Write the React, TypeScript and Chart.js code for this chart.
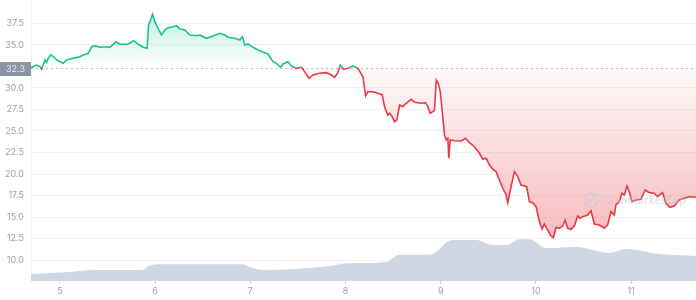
import React, { useEffect, useRef } from "react";
import { Chart, registerables } from "chart.js";

Chart.register(...registerables);

// ---- data ----
const times = [
  4.696, 4.755, 4.79, 4.808, 4.843, 4.86, 4.877, 4.902, 4.93, 4.965, 5.035, 5.07, 5.14, 5.21, 5.245, 5.297, 5.333, 5.367, 5.42, 5.49, 5.525, 5.588, 5.63, 5.7, 5.735, 5.776, 5.822, 5.874, 5.916, 5.931, 5.952, 5.973, 5.997, 6.031, 6.067, 6.102, 6.136, 6.189, 6.225, 6.259, 6.312, 6.364, 6.434, 6.469,
  6.539, 6.609, 6.679, 6.731, 6.766, 6.836, 6.889, 6.917, 6.941, 6.976, 7.028, 7.081, 7.133, 7.186, 7.238, 7.274, 7.316, 7.343, 7.396, 7.431, 7.484, 7.536, 7.571, 7.616, 7.658, 7.728, 7.799, 7.851, 7.886, 7.92, 7.945, 7.98, 8.025, 8.078, 8.13,
  8.183, 8.211, 8.235, 8.288, 8.34, 8.386, 8.41, 8.445, 8.463, 8.491, 8.515, 8.539, 8.568, 8.602, 8.638, 8.69, 8.725, 8.795, 8.84, 8.865, 8.89, 8.917, 8.935, 8.953, 8.974, 8.995, 9.022, 9.04, 9.058, 9.075, 9.085, 9.1, 9.145, 9.215, 9.26, 9.302, 9.355, 9.407, 9.442, 9.478, 9.512, 9.554, 9.582, 9.617, 9.652, 9.687, 9.704,
  9.739, 9.774, 9.809, 9.844, 9.879, 9.903, 9.932, 9.966, 10.002, 10.037, 10.065, 10.089, 10.124, 10.159, 10.184, 10.212, 10.247, 10.281, 10.307, 10.334, 10.37, 10.404, 10.439, 10.464, 10.491, 10.544, 10.579, 10.614, 10.666, 10.719, 10.753, 10.789, 10.824, 10.841, 10.876, 10.904, 10.929, 10.957, 10.981, 11.009, 11.051, 11.103, 11.149, 11.191, 11.243, 11.278, 11.331, 11.366, 11.408, 11.453, 11.506, 11.558, 11.611, 11.682,
];

const prices = [
  32.36, 32.67, 32.48, 32.21, 33.26, 32.99, 33.45, 33.84, 33.64, 33.26, 32.87, 33.26, 33.45, 33.64, 33.84, 34.03, 34.8, 34.92, 34.73, 34.8, 34.73, 35.38, 35.08, 35.08, 35.2, 35.5, 35.08, 34.73, 34.62, 37.33, 37.91, 38.57, 37.71, 36.94, 36.16, 36.74, 37.01, 37.13, 37.24, 36.86, 36.74, 36.16, 36.08, 36.16,
  35.78, 36.05, 36.36, 36.16, 35.9, 35.78, 35.58, 35.97, 35.0, 35.12, 34.73, 34.42, 34.15, 33.95, 33.06, 32.87, 32.41, 32.79, 33.06, 32.56, 32.29, 32.41, 31.9, 31.13, 31.51, 31.71, 31.78, 31.51, 31.24, 31.78, 32.67, 32.17, 32.29, 32.56, 32.29,
  31.31, 29.07, 29.57, 29.57, 29.38, 29.19, 27.83, 26.86, 27.06, 26.66, 26.08, 26.28, 28.02, 27.83, 28.22, 28.69, 28.34, 28.22, 28.29, 27.83, 27.06, 27.24, 27.44, 30.93, 30.55, 29.57, 26.66, 24.53, 23.95, 24.15, 21.83, 23.95, 23.87, 23.84, 24.15, 23.64, 23.17, 22.41, 21.71, 21.83, 21.05, 20.47, 20.27, 19.3, 18.34, 17.56, 16.66,
  18.52, 20.27, 19.69, 18.72, 18.6, 18.52, 16.78, 16.66, 16.2, 14.45, 13.6, 14.19, 13.49, 12.79, 12.59, 13.8, 13.69, 13.95, 14.65, 13.69, 13.57, 13.95, 15.12, 14.85, 15.03, 15.23, 15.73, 14.19, 14.07, 13.69, 14.07, 15.62, 15.23, 16.4, 16.78, 17.76, 17.56, 18.6, 17.94, 16.78, 16.98, 17.06, 18.14, 17.83, 17.76, 17.36, 17.83, 16.59, 16.13, 16.28, 16.98, 17.17, 17.36, 17.29,
];

const volTimes = [4.696, 5.105, 5.346, 5.871, 5.923, 6.081, 6.91, 6.994, 7.13, 7.487, 7.833, 7.938, 8.148, 8.431, 8.568, 8.883, 9.124, 9.376, 9.544, 9.69, 9.827, 9.932, 10.11, 10.425, 10.771, 10.95, 11.296, 11.682];
const volumes = [2.5, 3.2, 3.9, 3.9, 5.3, 6.0, 6.0, 5.0, 3.9, 4.3, 5.3, 6.0, 6.4, 6.8, 9.3, 9.3, 14.6, 14.6, 12.8, 12.8, 14.9, 14.9, 11.7, 12.1, 10.0, 11.4, 9.6, 8.9];

const yTickValues = [10, 12.5, 15, 17.5, 20, 22.5, 25, 27.5, 30, 35, 37.5];
const xTickValues = [5, 6, 7, 8, 9, 10, 11];
const lastPrice = 32.3;
const lastPriceLabel = "32.3";
const watermark = "CoinMarketCap";

const GREEN = "#16c784";
const RED = "#ea3943";
const FONT = "Inter, 'Noto Sans', sans-serif";

export default function App() {
  const ref = useRef<HTMLCanvasElement>(null);

  useEffect(() => {
    document.body.style.margin = "0";
    const canvas = ref.current!;

    const decor = {
      id: "cmcDecor",
      afterLayout(chart: any) {
        const { ctx, chartArea, scales } = chart;
        const yb = scales.y.getPixelForValue(lastPrice);
        const top = chartArea.top;
        const bottom = chartArea.bottom;
        const f = Math.min(1, Math.max(0, (yb - top) / (bottom - top)));
        const line = ctx.createLinearGradient(0, top, 0, bottom);
        line.addColorStop(0, GREEN);
        line.addColorStop(f, GREEN);
        line.addColorStop(f, RED);
        line.addColorStop(1, RED);
        const above = ctx.createLinearGradient(0, top, 0, yb);
        above.addColorStop(0, "rgba(22,199,132,0.30)");
        above.addColorStop(1, "rgba(22,199,132,0.01)");
        const below = ctx.createLinearGradient(0, yb, 0, bottom);
        below.addColorStop(0, "rgba(234,57,67,0.03)");
        below.addColorStop(1, "rgba(234,57,67,0.42)");
        const ds: any = chart.data.datasets[1];
        ds.borderColor = line;
        ds.fill = { target: { value: lastPrice }, above, below };
      },
      beforeDatasetsDraw(chart: any) {
        const { ctx, chartArea, scales } = chart;
        const yb = Math.round(scales.y.getPixelForValue(lastPrice)) + 0.5;
        ctx.save();
        ctx.strokeStyle = "#b9bfcc";
        ctx.lineWidth = 1;
        ctx.setLineDash([2, 3]);
        ctx.beginPath();
        ctx.moveTo(chartArea.left, yb);
        ctx.lineTo(chartArea.right, yb);
        ctx.stroke();
        ctx.restore();
      },
      afterDraw(chart: any) {
        const { ctx, chartArea, scales } = chart;
        const yb = scales.y.getPixelForValue(lastPrice);
        ctx.save();
        // watermark
        const wx = chartArea.right - 105;
        const wy = chartArea.top + 200;
        ctx.globalAlpha = 0.5;
        ctx.strokeStyle = "#c3cad8";
        ctx.lineWidth = 2;
        ctx.beginPath();
        ctx.arc(wx, wy, 7, 0, Math.PI * 2);
        ctx.stroke();
        ctx.beginPath();
        ctx.moveTo(wx - 4, wy + 3);
        ctx.lineTo(wx - 2, wy - 2);
        ctx.lineTo(wx, wy + 2);
        ctx.lineTo(wx + 2, wy - 2);
        ctx.lineTo(wx + 4, wy + 3);
        ctx.lineWidth = 1.5;
        ctx.stroke();
        ctx.fillStyle = "#c3cad8";
        ctx.font = `600 11px ${FONT}`;
        ctx.textAlign = "left";
        ctx.textBaseline = "middle";
        ctx.fillText(watermark, wx + 12, wy + 1);
        ctx.globalAlpha = 1;
        // last price label
        ctx.fillStyle = "#8c93a5";
        ctx.fillRect(0, Math.round(yb) - 6, chartArea.left, 14);
        ctx.fillStyle = "#eceef2";
        ctx.font = `9px ${FONT}`;
        ctx.textAlign = "center";
        ctx.fillText(lastPriceLabel, chartArea.left / 2, Math.round(yb) + 1);
        ctx.restore();
      },
    };

    const chart = new Chart(canvas, {
      type: "line",
      data: {
        datasets: [
          {
            label: "Volume",
            data: volTimes.map((t, i) => ({ x: t, y: volumes[i] })),
            yAxisID: "yv",
            backgroundColor: "#cfd6e4",
            borderWidth: 0,
            pointRadius: 0,
            fill: "origin",
            cubicInterpolationMode: "monotone",
            order: 2,
          },
          {
            label: "Price",
            data: times.map((t, i) => ({ x: t, y: prices[i] })),
            yAxisID: "y",
            borderColor: GREEN,
            borderWidth: 1.6,
            pointRadius: 0,
            tension: 0,
            fill: { target: { value: lastPrice } } as any,
            order: 1,
          },
        ],
      },
      options: {
        animation: false,
        responsive: false,
        maintainAspectRatio: false,
        layout: { padding: 0 },
        plugins: { legend: { display: false }, tooltip: { enabled: false } },
        events: [],
        scales: {
          x: {
            type: "linear",
            min: 4.696,
            max: 11.682,
            afterBuildTicks(axis: any) {
              axis.ticks = xTickValues.map((v) => ({ value: v }));
            },
            afterFit(axis: any) {
              axis.height = 19;
              axis.paddingLeft = 0;
              axis.paddingRight = 0;
            },
            grid: { display: true, drawOnChartArea: false, drawTicks: true, tickLength: 3, color: "#c9ced8" },
            border: { display: false },
            ticks: {
              padding: 2,
              color: "#9aa1b2",
              font: { family: FONT, size: 9 },
              callback: (v: any) => String(v),
            },
          },
          y: {
            position: "left",
            min: 7.56,
            max: 40.23,
            afterBuildTicks(axis: any) {
              axis.ticks = yTickValues.map((v) => ({ value: v }));
            },
            afterFit(axis: any) {
              axis.width = 31;
              axis.paddingTop = 0;
              axis.paddingBottom = 0;
            },
            grid: { color: "#eff2f5", drawTicks: false },
            border: { display: true, color: "#eff2f5" },
            ticks: {
              padding: 7,
              color: "#9aa1b2",
              font: { family: FONT, size: 9 },
              callback: (v: any) => Number(v).toFixed(1),
            },
          },
          yv: {
            display: false,
            min: 0,
            max: 100,
          },
        },
      },
      plugins: [decor],
    });

    return () => chart.destroy();
  }, []);

  return (
    <div style={{ position: "fixed", left: 0, top: 0, width: 696, height: 300, background: "#fff" }}>
      <canvas ref={ref} width={696} height={300} />
    </div>
  );
}
